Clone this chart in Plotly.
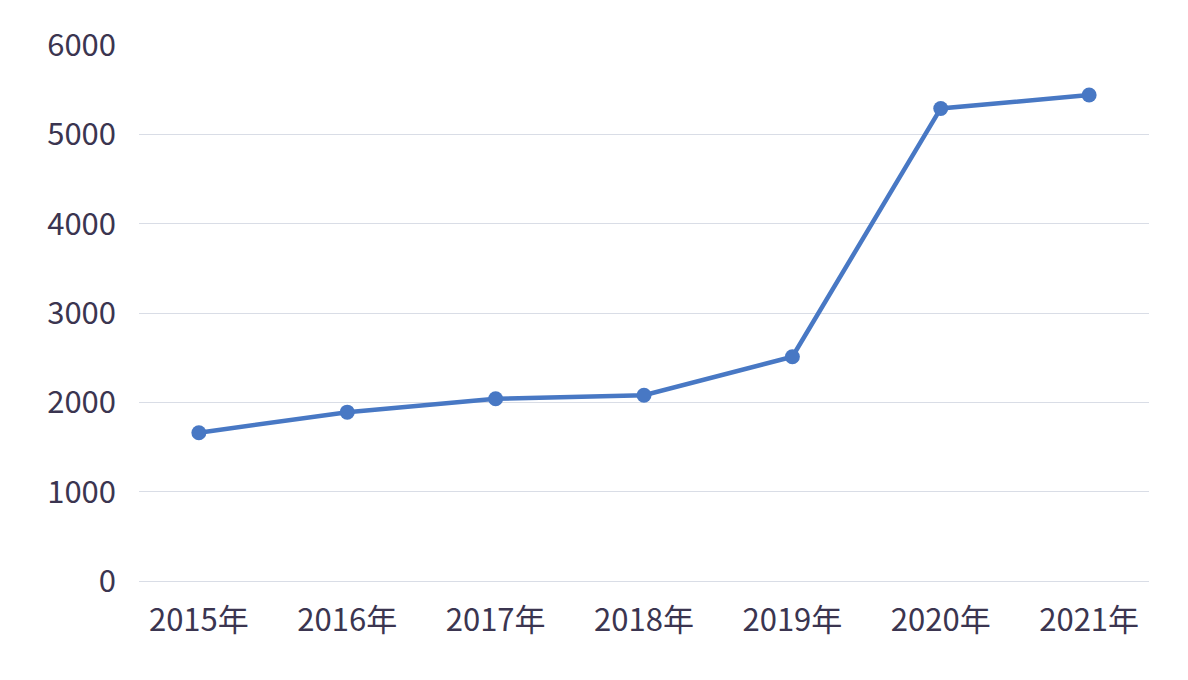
import plotly.graph_objects as go

years = ["2015年", "2016年", "2017年", "2018年", "2019年", "2020年", "2021年"]
values = [1660, 1890, 2040, 2080, 2510, 5290, 5440]
y_ticks = [0, 1000, 2000, 3000, 4000, 5000, 6000]

fig = go.Figure(go.Scatter(
    x=years, y=values, mode="lines+markers",
    line=dict(color="#4878c4", width=4.5),
    marker=dict(color="#4878c4", size=15),
))
fig.update_layout(
    width=1188, height=680,
    margin=dict(l=131, r=47, t=35, b=107),
    paper_bgcolor="white", plot_bgcolor="white",
    font=dict(family="Noto Sans CJK SC", size=31, color="#3b3550"),
    showlegend=False,
)
fig.update_xaxes(showgrid=False, showline=True, linecolor="#d9dde6", linewidth=1,
                 ticks="", ticklabelstandoff=12)
fig.update_yaxes(range=[0, 6000], tickvals=y_ticks, showgrid=True, gridcolor="#d9dde6",
                 gridwidth=1, zeroline=False, ticks="", ticklabelstandoff=22)
fig.write_html("out.html")
